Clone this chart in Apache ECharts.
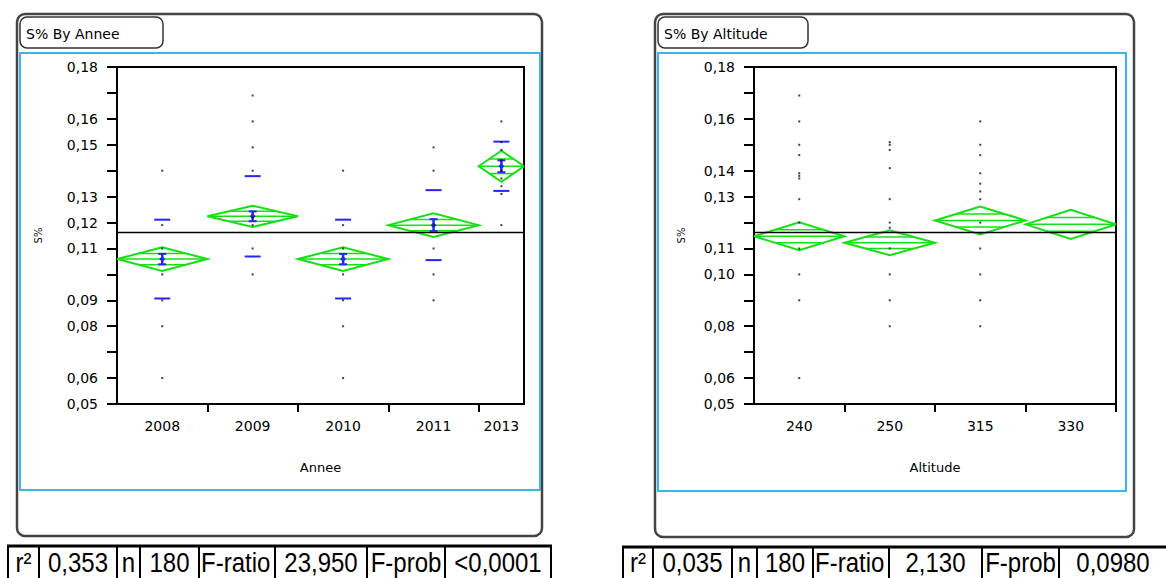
<!DOCTYPE html>
<html>
<head>
<meta charset="utf-8">
<script src="https://cdn.jsdelivr.net/npm/echarts@6/dist/echarts.min.js"></script>
<style>
html,body{margin:0;padding:0;background:#fff;}
#chart{width:1166px;height:578px;}
</style>
</head>
<body>
<div id="chart"></div>
<script>
// ---------------- data ----------------
const leftCats = ['2008', '2009', '2010', '2011', '2013'];
const leftCounts = [40, 40, 40, 40, 20];
const leftMeans = [0.1059, 0.1224, 0.1059, 0.1190, 0.1417];
const leftCIHalf = [0.0046, 0.0041, 0.0046, 0.0046, 0.0060];
const leftSD = [0.0152, 0.0155, 0.0152, 0.0135, 0.0095];
const leftSE = [0.0020, 0.0019, 0.0020, 0.0023, 0.0023];
const leftValues = [
  [0.14, 0.119, 0.11, 0.10, 0.09, 0.08, 0.06],
  [0.169, 0.159, 0.149, 0.14, 0.122, 0.119, 0.11, 0.10],
  [0.14, 0.119, 0.11, 0.10, 0.09, 0.08, 0.06],
  [0.149, 0.14, 0.119, 0.11, 0.10, 0.09],
  [0.159, 0.151, 0.148, 0.144, 0.14, 0.137, 0.134, 0.131, 0.119]
];
const leftYLabels = [0.18, 0.16, 0.15, 0.13, 0.12, 0.11, 0.09, 0.08, 0.06, 0.05];

const rightCats = ['240', '250', '315', '330'];
const rightCounts = [45, 45, 45, 45];
const rightMeans = [0.1147, 0.1122, 0.1208, 0.1193];
const rightCIHalf = [0.0054, 0.0048, 0.0054, 0.0056];
const rightValues = [
  [0.169, 0.159, 0.15, 0.146, 0.139, 0.138, 0.137, 0.129, 0.12, 0.11, 0.10, 0.09, 0.06],
  [0.151, 0.15, 0.148, 0.141, 0.129, 0.12, 0.118, 0.11, 0.10, 0.09, 0.08],
  [0.159, 0.15, 0.146, 0.139, 0.135, 0.132, 0.129, 0.12, 0.116, 0.11, 0.10, 0.09, 0.08],
  []
];
const rightYLabels = [0.18, 0.16, 0.14, 0.13, 0.11, 0.10, 0.08, 0.06, 0.05];

const grandMean = 0.1162;
const leftStats = ['r²', '0,353', 'n', '180', 'F-ratio', '23,950', 'F-prob', '<0,0001'];
const rightStats = ['r²', '0,035', 'n', '180', 'F-ratio', '2,130', 'F-prob', '0,0980'];

// ---------------- styling ----------------
const GREEN = '#14e014';
const BLUE = '#2626f0';
const SKY = '#3cb6ea';
const TICK_FONT = 'DejaVu Sans';

function groupLayout(counts) {
  const starts = [], centers = [], ends = [];
  let acc = 0;
  counts.forEach(n => { starts.push(acc); centers.push(acc + n / 2); acc += n; ends.push(acc); });
  return { starts, centers, ends, total: acc };
}

function fmt(v) { return v.toFixed(2).replace('.', ','); }

function makeAxes(gi, cats, counts, yLabels, xName, yNameGap, extraEndTick) {
  const L = groupLayout(counts);
  const tickVals = L.ends.slice(0, extraEndTick ? L.ends.length : L.ends.length - 1);
  return {
    x: {
      gridIndex: gi, type: 'value', min: 0, max: L.total,
      axisLine: { show: true, onZero: false, lineStyle: { color: '#000', width: 2 } },
      axisTick: { show: true, customValues: tickVals, length: 8, lineStyle: { color: '#000', width: 2 } },
      axisLabel: {
        customValues: L.centers, margin: 15, color: '#000', fontFamily: TICK_FONT, fontSize: 14,
        formatter: v => { let b = 0; L.centers.forEach((c, i) => { if (Math.abs(c - v) < Math.abs(L.centers[b] - v)) b = i; }); return cats[b]; }
      },
      splitLine: { show: false },
      name: xName, nameLocation: 'middle', nameGap: 57,
      nameTextStyle: { fontFamily: TICK_FONT, fontSize: 13, color: '#000' }
    },
    y: {
      gridIndex: gi, type: 'value', min: 0.05, max: 0.18, interval: 0.01,
      axisLine: { show: true, onZero: false, lineStyle: { color: '#000', width: 2 } },
      axisTick: { show: true, length: 10, lineStyle: { color: '#000', width: 2 } },
      axisLabel: { customValues: yLabels, formatter: fmt, margin: 19, color: '#000', fontFamily: TICK_FONT, fontSize: 14 },
      splitLine: { show: false },
      name: 'S%', nameLocation: 'middle', nameRotate: 90, nameGap: yNameGap,
      nameTextStyle: { fontFamily: TICK_FONT, fontSize: 10, color: '#000' }
    }
  };
}

function makeSeries(gi, counts, means, ciHalf, sd, se, values) {
  const L = groupLayout(counts);
  const out = [];
  // mean diamonds
  out.push({
    type: 'custom', xAxisIndex: gi, yAxisIndex: gi, clip: true, z: 2, silent: true,
    data: means.map((m, i) => [L.starts[i], L.ends[i], m, ciHalf[i]]),
    renderItem: (params, api) => {
      const x0 = api.value(0), x1 = api.value(1), m = api.value(2), h = api.value(3);
      const cx = (x0 + x1) / 2;
      const pL = api.coord([x0, m]), pR = api.coord([x1, m]);
      const pT = api.coord([cx, m + h]), pB = api.coord([cx, m - h]);
      const hw = (pR[0] - pL[0]) / 2, hh = (pB[1] - pT[1]) / 2;
      const f = 0.47;
      const children = [
        { type: 'polygon', shape: { points: [pL, pT, pR, pB] }, style: { fill: 'none', stroke: GREEN, lineWidth: 2 } },
        { type: 'line', shape: { x1: pL[0], y1: pL[1], x2: pR[0], y2: pR[1] }, style: { stroke: GREEN, lineWidth: 1.5 } }
      ];
      [-1, 1].forEach(s => {
        const yy = pL[1] + s * f * hh;
        const w = hw * (1 - f);
        children.push({ type: 'line', shape: { x1: pL[0] + hw - w, y1: yy, x2: pL[0] + hw + w, y2: yy }, style: { stroke: GREEN, lineWidth: 1.5 } });
      });
      return { type: 'group', children };
    }
  });
  // grand mean
  out.push({
    type: 'custom', xAxisIndex: gi, yAxisIndex: gi, clip: true, z: 3, silent: true,
    data: [[0, L.total, grandMean]],
    renderItem: (params, api) => {
      const a = api.coord([api.value(0), api.value(2)]), b = api.coord([api.value(1), api.value(2)]);
      return { type: 'line', shape: { x1: a[0], y1: a[1], x2: b[0], y2: b[1] }, style: { stroke: '#000', lineWidth: 1.5 } };
    }
  });
  if (sd) {
    out.push({
      type: 'custom', xAxisIndex: gi, yAxisIndex: gi, clip: true, z: 4, silent: true,
      data: means.map((m, i) => [L.centers[i], m, sd[i], se[i]]),
      renderItem: (params, api) => {
        const cx = api.value(0), m = api.value(1), s = api.value(2), e = api.value(3);
        const up = api.coord([cx, m + s]), dn = api.coord([cx, m - s]);
        const eu = api.coord([cx, m + e]), ed = api.coord([cx, m - e]), c = api.coord([cx, m]);
        const st = { stroke: BLUE, lineWidth: 2 };
        return {
          type: 'group', children: [
            { type: 'line', shape: { x1: up[0] - 8, y1: up[1], x2: up[0] + 8, y2: up[1] }, style: st },
            { type: 'line', shape: { x1: dn[0] - 8, y1: dn[1], x2: dn[0] + 8, y2: dn[1] }, style: st },
            { type: 'line', shape: { x1: eu[0], y1: eu[1], x2: ed[0], y2: ed[1] }, style: { stroke: BLUE, lineWidth: 2.5 } },
            { type: 'line', shape: { x1: eu[0] - 4, y1: eu[1], x2: eu[0] + 4, y2: eu[1] }, style: st },
            { type: 'line', shape: { x1: ed[0] - 4, y1: ed[1], x2: ed[0] + 4, y2: ed[1] }, style: st },
            { type: 'polygon', shape: { points: [[c[0], c[1] - 3], [c[0] + 3, c[1]], [c[0], c[1] + 3], [c[0] - 3, c[1]]] }, style: { fill: BLUE } }
          ]
        };
      }
    });
  }
  const pts = [];
  values.forEach((arr, i) => arr.forEach(v => pts.push([L.centers[i], v])));
  out.push({
    type: 'scatter', xAxisIndex: gi, yAxisIndex: gi, z: 5, silent: true,
    symbol: 'rect', symbolSize: 2, itemStyle: { color: '#111' }, data: pts
  });
  return out;
}

// ---------------- frames and tables ----------------
function tableGraphic(edges, y0, texts) {
  const els = [];
  els.push({ type: 'line', shape: { x1: edges[0] - 1, y1: y0, x2: edges[edges.length - 1] + 1, y2: y0 }, style: { stroke: '#000', lineWidth: 3 } });
  edges.forEach(x => els.push({ type: 'line', shape: { x1: x, y1: y0, x2: x, y2: 600 }, style: { stroke: '#000', lineWidth: 2 } }));
  texts.forEach((t, i) => {
    const a = edges[i], b = edges[i + 1];
    const left = (t === 'F-ratio');
    els.push({
      type: 'text', x: left ? a + 2 : (a + b) / 2, y: 562, scaleY: 1.13,
      style: { text: t, x: 0, y: 0, fill: '#000', font: '24px "Liberation Sans", Arial, sans-serif',
        textAlign: left ? 'left' : 'center', align: left ? 'left' : 'center', textVerticalAlign: 'middle', verticalAlign: 'middle' }
    });
  });
  return els;
}

function panelFrame(ox, oy, ow, oh, tx, tw, title, bx, by, bw, bh) {
  return [
    { type: 'rect', shape: { x: ox, y: oy, width: ow, height: oh, r: 8 }, style: { fill: 'none', stroke: '#444', lineWidth: 2.5 } },
    { type: 'rect', shape: { x: tx, y: 17, width: tw, height: 31, r: 7 }, style: { fill: 'none', stroke: '#333', lineWidth: 1.5 } },
    { type: 'text', x: tx + 6, y: 34, style: { text: title, x: 0, y: 0, fill: '#000', font: '14px "DejaVu Sans"', textVerticalAlign: 'middle', verticalAlign: 'middle' } },
    { type: 'rect', shape: { x: bx, y: by, width: bw, height: bh }, style: { fill: 'none', stroke: SKY, lineWidth: 2 } }
  ];
}

const A = makeAxes(0, leftCats, leftCounts, leftYLabels, 'Annee', 74, false);
const B = makeAxes(1, rightCats, rightCounts, rightYLabels, 'Altitude', 68, true);

const graphics = []
  .concat(panelFrame(17, 14, 525, 522, 20, 143, 'S% By Annee', 20, 53, 520, 437))
  .concat(panelFrame(655, 14, 479, 523, 658, 150, 'S% By Altitude', 658, 53, 468, 438))
  .concat(tableGraphic([8, 39, 117, 140, 199, 275, 367, 445, 551], 546, leftStats))
  .concat(tableGraphic([623, 653, 732, 757, 813, 889, 982, 1059, 1167], 547, rightStats));

const chart = echarts.init(document.getElementById('chart'), null, { renderer: 'svg', width: 1166, height: 578 });
chart.setOption({
  animation: false,
  backgroundColor: '#fff',
  grid: [
    { left: 117, top: 67, width: 407, height: 337, show: true, borderColor: '#000', borderWidth: 2, backgroundColor: 'transparent' },
    { left: 754, top: 67, width: 362, height: 337, show: true, borderColor: '#000', borderWidth: 2, backgroundColor: 'transparent' }
  ],
  xAxis: [A.x, B.x],
  yAxis: [A.y, B.y],
  series: []
    .concat(makeSeries(0, leftCounts, leftMeans, leftCIHalf, leftSD, leftSE, leftValues))
    .concat(makeSeries(1, rightCounts, rightMeans, rightCIHalf, null, null, rightValues)),
  graphic: { elements: graphics }
});
</script>
</body>
</html>
